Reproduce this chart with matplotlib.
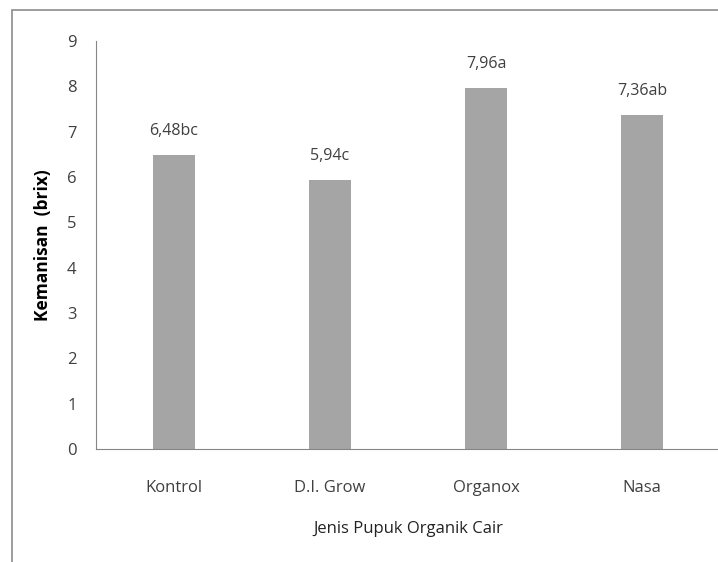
import matplotlib.pyplot as plt
from matplotlib.patches import Rectangle

categories = ["Kontrol", "D.I. Grow", "Organox", "Nasa"]
values = [6.48, 5.94, 7.96, 7.36]
letters = ["bc", "c", "a", "ab"]

plt.rcParams['font.family'] = ['Liberation Sans Narrow', 'Open Sans', 'DejaVu Sans']

fig = plt.figure(figsize=(7.18, 5.62), dpi=100)
# outer chart frame
fig.patches.append(Rectangle((12 / 718, -0.01), 1.0, 1 - 10 / 562 + 0.01,
                             transform=fig.transFigure, fill=False,
                             edgecolor="#8c8c8c", linewidth=1.2))

ax = fig.add_axes([96 / 718, 1 - 449 / 562, 624 / 718, (449 - 41) / 562])
x = range(len(categories))
ax.bar(x, values, width=0.265, color="#a5a5a5")
for i, v in enumerate(values):
    ax.text(i, v + 0.35, f"{v:.2f}".replace(".", ",") + letters[i],
            ha="center", va="bottom", fontsize=11.5, color="#404040")

ax.set_xlim(-0.5, 3.5)
ax.set_ylim(0, 9)
ax.set_yticks(range(10))
ax.set_xticks(list(x))
ax.set_xticklabels(categories)
ax.tick_params(length=0, labelsize=12, colors="#404040")
ax.tick_params(axis="x", pad=22)
ax.tick_params(axis="y", pad=14)
for s in ["top", "right"]:
    ax.spines[s].set_visible(False)
ax.spines["left"].set_color("#868686")
ax.spines["bottom"].set_color("#868686")

ax.set_ylabel("Kemanisan  (brix)", fontweight="bold", fontsize=12.5, labelpad=11)
ax.set_xlabel("Jenis Pupuk Organik Cair", fontsize=12, labelpad=18, color="#222222")

fig.savefig("out.png", dpi=100)
